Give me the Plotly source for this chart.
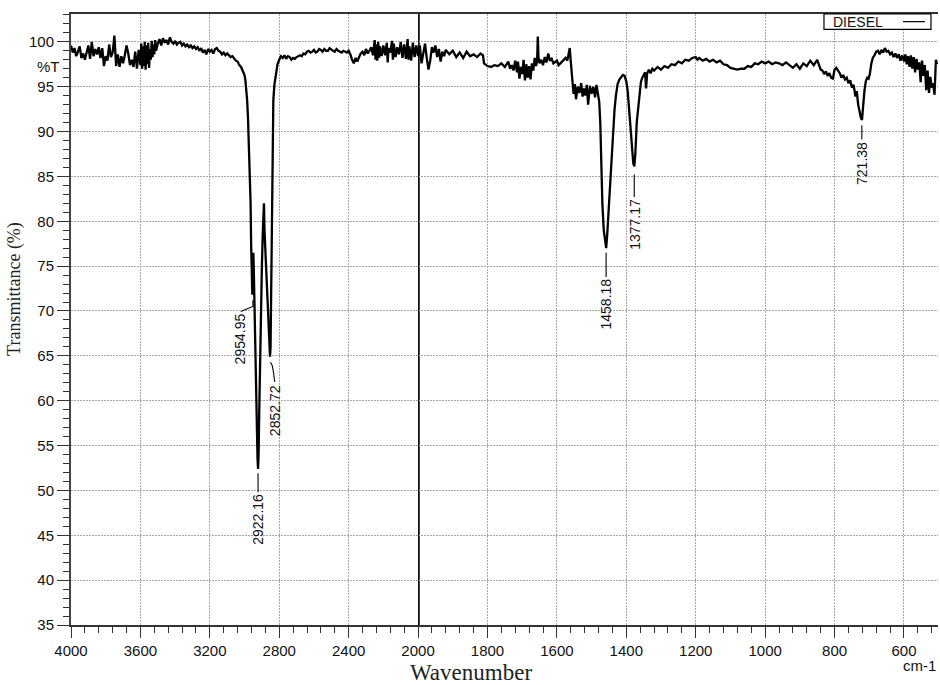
import plotly.graph_objects as go

# ---------------- data ----------------
wavenumber = [
    4000, 3990, 3980, 3970, 3960, 3950, 3940, 3930, 3920, 3910, 3900, 3890, 3880, 3870, 3860, 3850,
    3840, 3830, 3820, 3810, 3800, 3790, 3780, 3770, 3760, 3750, 3740, 3730, 3720, 3710, 3700, 3690,
    3680, 3670, 3660, 3650, 3640, 3630, 3620, 3610, 3600,
    3595, 3590, 3585, 3580, 3575, 3570, 3565, 3560, 3555, 3550, 3545, 3540, 3535, 3530, 3525, 3520,
    3515, 3510,
    3500, 3490, 3480, 3470, 3460, 3450, 3440, 3430, 3420, 3410, 3400, 3390, 3380, 3370, 3360, 3350,
    3340, 3330, 3320, 3310, 3300, 3290, 3280, 3270, 3260, 3250, 3240, 3230, 3220, 3210, 3200, 3190,
    3180, 3170, 3160, 3150, 3140, 3130, 3120, 3110, 3100, 3090, 3080, 3070, 3060, 3050, 3040, 3030,
    3020, 3010, 3000,
    2995, 2990, 2985, 2980, 2975, 2970, 2965, 2962, 2960, 2957, 2955, 2952, 2949, 2946, 2940, 2935,
    2930, 2925, 2922, 2919, 2915, 2910, 2905, 2900, 2895, 2891, 2888, 2885, 2880, 2874, 2868, 2862,
    2857, 2853, 2850, 2847, 2844, 2841, 2838, 2834, 2828, 2820, 2810,
    2800, 2790, 2780, 2770, 2760, 2750, 2740, 2730, 2720, 2710, 2700, 2690, 2680, 2670, 2660, 2650,
    2640, 2630, 2620, 2610, 2600, 2590, 2580, 2570, 2560, 2550, 2540, 2530, 2520, 2510, 2500, 2490,
    2480, 2470, 2460, 2450, 2440, 2430, 2420, 2410, 2400,
    2390, 2380, 2370, 2360, 2350, 2340, 2330, 2320, 2310, 2300, 2290, 2280, 2270, 2260, 2250, 2245,
    2240, 2235, 2230, 2225, 2220, 2210, 2200, 2190, 2180, 2175, 2170, 2160, 2150, 2145, 2140, 2130,
    2120, 2110, 2100, 2090, 2080, 2070, 2060, 2055, 2050, 2040, 2030, 2020, 2010, 2000,
    1995, 1990, 1985, 1980, 1975, 1970, 1965, 1960, 1955, 1950, 1945, 1940, 1935, 1930, 1925, 1920,
    1910, 1900, 1890, 1880, 1870, 1860, 1850, 1840, 1830, 1820, 1813, 1810, 1800, 1790, 1780, 1770,
    1760, 1750, 1740, 1735, 1730, 1725, 1720, 1715, 1712, 1708, 1704, 1700, 1696, 1692, 1688, 1684,
    1680, 1676, 1672, 1668, 1664, 1660, 1657, 1655, 1653, 1650, 1645, 1640, 1635, 1630, 1625, 1620,
    1615, 1610, 1600, 1595, 1590, 1585, 1580, 1575, 1570, 1566, 1563, 1560, 1556, 1552, 1548, 1545,
    1540, 1535, 1530, 1526, 1522, 1518, 1514, 1510, 1505, 1500, 1495, 1490, 1486, 1482, 1478, 1475,
    1472, 1469, 1465, 1461, 1458, 1455, 1450, 1446, 1442, 1438, 1434, 1430, 1425, 1420, 1415, 1410,
    1405, 1400, 1396, 1392, 1388, 1384, 1380, 1377, 1374, 1370, 1366, 1362, 1358, 1355, 1350, 1346,
    1343, 1340, 1335, 1330, 1325, 1320, 1310, 1300, 1290, 1280, 1270, 1260, 1250, 1240, 1230, 1220,
    1210, 1200, 1195, 1190, 1180, 1170, 1160, 1150, 1140, 1130, 1120, 1110, 1100, 1090, 1080, 1070,
    1060, 1050, 1040, 1030, 1020, 1010, 1000, 990, 980, 970, 960, 950, 940, 930, 920, 910,
    900, 890, 880, 870, 860, 850, 845, 840, 835, 830, 825, 820, 815, 810, 805, 800,
    795, 790, 785, 780, 775, 770, 765, 760, 755, 750, 745, 740, 736, 732, 728, 724,
    721, 718, 714, 710, 706, 702, 698, 694, 690, 685, 680, 675, 670, 665, 660, 655,
    650, 645, 640, 635, 630, 625, 620, 615, 610, 605, 600, 596, 592, 588, 584, 580,
    576, 572, 568, 564, 560, 556, 552, 548, 544, 540, 536, 532, 528, 524, 520, 516,
    512, 508, 505,
]

transmittance = [
    99.6, 98.8, 99.3, 98.4, 98.9, 99.5, 98.2, 98.7, 98.0, 98.9, 99.6, 98.1, 100.0, 98.4, 99.2, 98.6,
    99.4, 98.2, 99.3, 97.3, 98.4, 97.9, 99.7, 98.3, 98.8, 100.7, 97.3, 98.6, 97.2, 98.4, 97.6, 98.5,
    99.6, 98.7, 97.4, 98.0, 97.2, 98.9, 97.0, 99.1, 97.4,
    99.8, 97.0, 99.5, 97.3, 100.0, 96.9, 99.6, 97.5, 99.9, 97.1, 99.2, 98.0, 100.1, 98.3, 99.7, 98.6,
    100.2, 99.0,
    99.8, 100.3, 99.6, 100.4, 99.9, 100.2, 99.7, 100.5, 100.0, 99.8, 100.1, 99.7, 99.9, 100.0, 99.6, 99.8,
    99.5, 99.7, 99.4, 99.6, 99.3, 99.5, 99.2, 99.4, 99.0, 99.3, 98.8, 99.1, 98.6, 99.2, 98.9, 99.1,
    98.7, 99.2, 99.3, 99.0, 98.9, 98.6, 98.8, 98.5, 98.7, 98.5, 98.3, 98.4, 98.1, 97.9, 97.8, 97.4,
    97.2, 96.8, 96.3,
    95.7, 94.8, 93.5, 91.5, 89.0, 86.5, 82.0, 77.5, 74.5, 72.5, 71.8, 73.5, 76.5, 74.0, 67.0, 62.0,
    57.0, 53.5, 52.4, 54.0, 59.0, 66.0, 71.0, 75.0, 78.5, 81.5, 82.0, 79.0, 76.5, 75.5, 72.0, 68.0,
    65.5, 64.9, 66.0, 71.0, 79.0, 87.0, 91.0, 93.5, 95.2, 96.4, 97.5,
    98.0, 98.4, 98.2, 98.5, 98.1, 98.4, 98.3, 98.0, 98.2, 98.1, 98.3, 98.4, 98.5, 98.4, 98.7, 98.6,
    98.9, 99.0, 98.8, 98.9, 99.1, 98.8, 98.9, 99.2, 99.1, 98.9, 99.2, 99.0, 99.0, 99.3, 99.1, 99.0,
    98.9, 99.2, 99.0, 98.9, 98.8, 99.0, 98.9, 98.8, 99.0,
    98.6, 98.0, 97.6, 98.2, 97.8, 98.3, 98.7, 98.9, 98.5, 99.2, 98.7, 99.0, 99.4, 98.5, 100.2, 98.0,
    99.7, 97.9, 100.0, 98.2, 99.5, 98.4, 99.6, 98.5, 99.9, 97.7, 99.3, 98.8, 100.1, 98.0, 99.8, 98.3,
    99.4, 98.6, 100.0, 98.2, 99.7, 98.1, 100.3, 98.0, 99.5, 97.9, 99.9, 98.3, 99.6, 98.4,
    99.6, 97.6, 98.6, 99.8, 98.2, 96.9, 97.9, 99.4, 98.8, 99.6, 98.3, 99.2, 97.8, 98.9, 98.4, 99.1,
    98.6, 99.0, 98.3, 98.8, 98.2, 98.9, 98.4, 98.6, 98.3, 98.7, 98.5, 97.6, 97.3, 97.2, 97.4, 97.3,
    97.6, 97.2, 97.8, 97.0, 97.4, 96.8, 97.9, 96.6, 97.8, 95.9, 97.2, 96.4, 98.0, 95.7, 97.5, 96.0,
    97.3, 95.8, 97.6, 96.8, 98.2, 97.3, 97.9, 100.6, 98.3, 97.6, 98.0, 97.4, 98.3, 97.7, 98.7, 97.9,
    98.1, 97.6, 97.9, 97.4, 97.6, 97.8, 98.0, 98.2, 97.9, 98.6, 99.3, 97.8, 95.5, 94.2, 95.3, 93.6,
    95.0, 94.3, 95.4, 93.9, 94.8, 94.0, 95.2, 93.0, 95.1, 94.2, 95.0, 93.8, 95.2, 94.0, 93.3, 91.0,
    86.0, 82.0, 79.0, 77.5, 77.0, 78.5, 82.0, 85.5, 88.0, 90.5, 92.4, 94.0, 95.3, 95.8, 96.1, 96.3,
    96.2, 95.6, 94.5, 92.4, 90.0, 88.0, 86.5, 86.1, 87.5, 91.0, 92.6, 94.3, 95.5, 95.9, 96.4, 96.6,
    94.8, 96.5, 96.9, 96.5, 97.0, 96.8, 97.2, 96.9, 97.3, 97.1, 97.5, 97.4, 97.8, 97.6, 98.0, 97.9,
    98.2, 98.3, 98.0, 98.2, 97.9, 98.1, 97.8, 98.0, 97.7, 97.9, 97.5, 97.4, 97.1, 97.0, 96.9, 97.0,
    97.0, 97.3, 97.2, 97.6, 97.5, 97.8, 97.6, 97.8, 97.5, 97.7, 97.6, 97.4, 97.7, 97.4, 97.1, 97.5,
    97.0, 97.6, 97.3, 97.9, 97.4, 98.0, 97.4, 96.9, 96.8, 96.4, 96.7, 96.2, 96.5, 96.0, 95.9, 96.9,
    97.1, 96.8, 96.5, 96.0, 96.3, 95.8, 96.0, 95.4, 95.7, 94.9, 95.2, 93.9, 94.5, 93.0, 92.2, 91.5,
    91.3, 92.8, 94.5, 95.6, 96.0, 95.9, 96.5, 97.6, 98.2, 98.5, 98.9, 99.0, 98.6, 99.1, 98.8, 99.3,
    98.9, 99.0, 98.6, 98.8, 98.3, 98.7, 98.2, 98.6, 97.9, 98.5, 97.8, 98.6, 97.5, 98.4, 97.2, 98.5,
    97.0, 98.3, 96.6, 98.1, 96.9, 97.7, 95.5, 97.9, 96.2, 97.4, 94.6, 96.8, 94.3, 96.1, 94.9, 95.4,
    94.1, 98.0, 97.5,
]

peak_positions = [2954.95, 2922.16, 2852.72, 1458.18, 1377.17, 721.38]
peak_labels = ["2954.95", "2922.16", "2852.72", "1458.18", "1377.17", "721.38"]

left_tick_values = [4000, 3600, 3200, 2800, 2400]
right_tick_values = [2000, 1800, 1600, 1400, 1200, 1000, 800, 600]
y_tick_values = [35, 40, 45, 50, 55, 60, 65, 70, 75, 80, 85, 90, 95, 100]

series_name = "DIESEL"

# ---------------- split into the two scale regions ----------------
left_x = [w for w in wavenumber if w >= 2000]
left_y = [t for w, t in zip(wavenumber, transmittance) if w >= 2000]
right_x = [w for w in wavenumber if w <= 2000]
right_y = [t for w, t in zip(wavenumber, transmittance) if w <= 2000]

LINE = dict(color="black", width=2.3)
SPLIT = 0.4003
Y_RANGE = [35, 103.1]

fig = go.Figure()
fig.add_trace(go.Scatter(x=left_x, y=left_y, xaxis="x", yaxis="y", mode="lines",
                         line=LINE, name=series_name, showlegend=False))
fig.add_trace(go.Scatter(x=right_x, y=right_y, xaxis="x2", yaxis="y", mode="lines",
                         line=LINE, name=series_name, showlegend=False))

tickfont = dict(family="Liberation Sans, Arial, sans-serif", size=15, color="#111")
grid = dict(showgrid=True, gridcolor="#a8a8a8", griddash="2px,1px", gridwidth=1)
xcommon = dict(showline=True, linecolor="#333", linewidth=1.6, mirror=True,
               ticks="outside", ticklen=11, tickwidth=1.3, tickcolor="#333",
               tickfont=tickfont, zeroline=False, tickmode="array", **grid)

fig.update_layout(
    width=940, height=685,
    margin=dict(l=71, r=2, t=14, b=60),
    paper_bgcolor="white", plot_bgcolor="white",
    showlegend=False,
    xaxis=dict(domain=[0, SPLIT], range=[4000, 2000], anchor="y",
               tickvals=left_tick_values,
               minor=dict(tickmode="array", tickvals=list(range(4000, 1999, -80)),
                          ticks="outside", ticklen=6, tickwidth=1.2, tickcolor="#333", showgrid=False),
               **xcommon),
    xaxis2=dict(domain=[SPLIT, 1], range=[2000, 502], anchor="y",
                tickvals=right_tick_values,
                minor=dict(tickmode="array", tickvals=list(range(2000, 500, -40)),
                           ticks="outside", ticklen=6, tickwidth=1.2, tickcolor="#333", showgrid=False),
                **xcommon),
    yaxis=dict(domain=[0, 1], range=Y_RANGE, tickmode="array", tickvals=y_tick_values,
               showline=True, linecolor="#444", linewidth=2, mirror=True,
               ticks="outside", ticklen=12, tickwidth=1.3, tickcolor="#333",
               minor=dict(tickmode="array", tickvals=list(range(35, 104)),
                          ticks="outside", ticklen=6, tickwidth=1.2, tickcolor="#333", showgrid=False),
               tickfont=tickfont, zeroline=False, **grid),
)

shapes = []
# region separator at 2000 cm-1
shapes.append(dict(type="line", xref="x2", yref="y", x0=2000, x1=2000, y0=Y_RANGE[0], y1=Y_RANGE[1],
                   line=dict(color="black", width=1.4)))

# peak label placement: (axis, label x, text top y, leader path)
label_style = dict(family="Liberation Sans, Arial, sans-serif", size=14, color="#111")
placements = {
    "2954.95": ("x", 3026, 69.9, [(3021, 69.95), (2952, 70.5), (2952, 71.2)]),
    "2922.16": ("x", 2922.16, 49.8, [(2922.16, 51.9), (2922.16, 49.8)]),
    "2852.72": ("x", 2825, 62.0, [(2850, 64.3), (2840, 63.9), (2832, 63.0), (2826, 62.1)]),
    "1458.18": ("x2", 1458.18, 73.8, [(1458.18, 76.5), (1458.18, 73.8)]),
    "1377.17": ("x2", 1377.17, 82.7, [(1377.17, 85.2), (1377.17, 82.7)]),
    "721.38": ("x2", 721.38, 89.1, [(721.38, 90.7), (721.38, 89.1)]),
}
annotations = []
for pos, lab in zip(peak_positions, peak_labels):
    ax, lx, ty, path = placements[lab]
    annotations.append(dict(xref=ax, yref="y", x=lx, y=ty, text=lab, showarrow=False,
                            textangle=-90, xanchor="center", yanchor="top", font=label_style))
    p = "M " + " L ".join(f"{px},{py}" for px, py in path)
    shapes.append(dict(type="path", xref=ax, yref="y", path=p, line=dict(color="black", width=1.1)))

# legend box (text then line sample)
shapes.append(dict(type="rect", xref="paper", yref="paper", x0=0.8685, x1=0.9919, y0=0.975, y1=1.0,
                   line=dict(color="black", width=1.2), fillcolor="white", layer="above"))
shapes.append(dict(type="line", xref="paper", yref="paper", x0=0.9596, x1=0.985, y0=0.9875, y1=0.9875,
                   line=dict(color="black", width=1.2), layer="above"))
annotations.append(dict(xref="paper", yref="paper", x=0.877, y=0.9875, text=series_name, showarrow=False,
                        xanchor="left", yanchor="middle",
                        font=dict(family="Liberation Sans, Arial, sans-serif", size=14, color="#111")))

# axis labels
annotations.append(dict(xref="paper", yref="y", x=-0.0104, y=97.3, text="%T", showarrow=False,
                        xanchor="right", yanchor="middle", font=tickfont))
annotations.append(dict(xref="paper", yref="paper", x=1.0, y=-0.066, text="cm-1", showarrow=False,
                        xanchor="right", yanchor="middle", font=tickfont))
annotations.append(dict(xref="paper", yref="paper", x=0.461, y=-0.077, text="Wavenumber", showarrow=False,
                        xanchor="center", yanchor="middle",
                        font=dict(family="Liberation Serif, Times New Roman, serif", size=23, color="#222")))
annotations.append(dict(xref="paper", yref="paper", x=-0.0646, y=0.55, text="Transmittance (%)",
                        showarrow=False, textangle=-90, xanchor="center", yanchor="middle",
                        font=dict(family="Liberation Serif, Times New Roman, serif", size=18, color="#222")))

fig.update_layout(shapes=shapes, annotations=annotations)
fig.write_html("out.html")
